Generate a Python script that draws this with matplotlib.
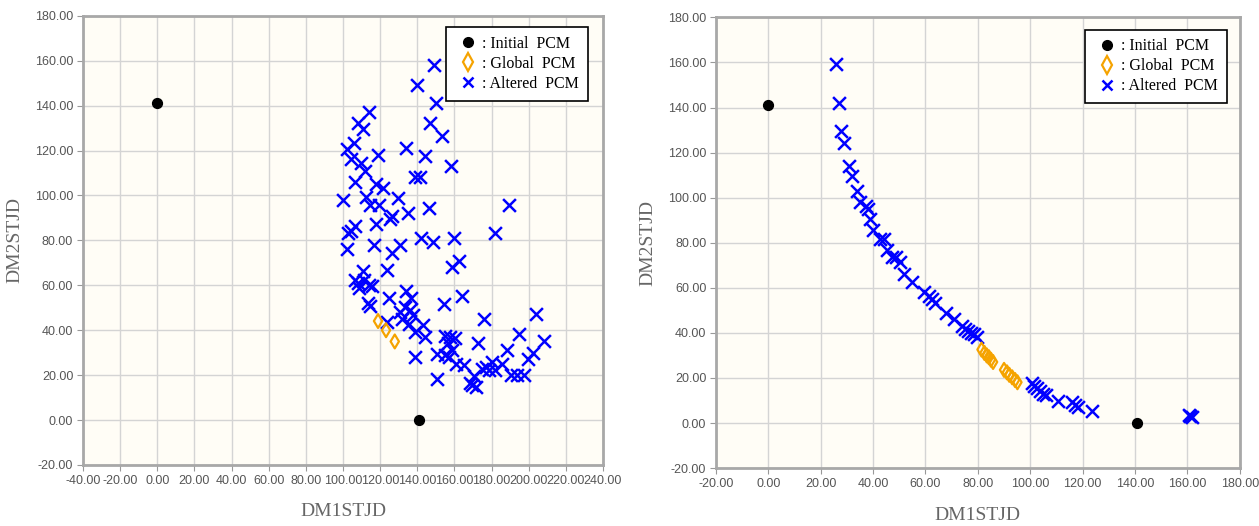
import matplotlib
matplotlib.use("Agg")
import matplotlib.pyplot as plt
from matplotlib.lines import Line2D

# Left panel data
left_initial_x = [0.0, 141.0]
left_initial_y = [141.3, 0.0]
left_global_x = [118.9, 123.2, 127.9]
left_global_y = [44.1, 40.0, 35.0]
left_altered_x = [149.1, 140.0, 150.0, 113.9, 147.0, 108.3, 110.9, 153.5, 106.1, 102.2,
                  134.1, 118.9, 144.3, 104.3, 109.8, 158.0, 112.0, 106.5, 138.9, 141.5,
                  117.8, 121.7, 100.0, 112.4, 129.8, 114.6, 119.6, 146.1, 189.3, 126.5,
                  134.8, 125.4, 106.7, 117.8, 102.8, 142.2, 160.0, 181.7, 116.7, 130.9,
                  148.3, 102.4, 126.5, 158.9, 162.4, 123.5, 110.9, 106.5, 111.3, 108.7,
                  113.9, 115.6, 163.9, 134.1, 124.8, 113.5, 154.4, 136.7, 133.5, 136.1,
                  130.9, 137.8, 132.0, 135.7, 123.7, 143.3, 138.9, 144.3, 175.9, 203.7,
                  138.9, 155.2, 157.4, 160.6, 172.6, 194.8, 208.5, 188.3, 156.3, 158.5,
                  150.9, 154.8, 157.0, 160.7, 165.0, 202.6, 199.8, 150.4, 168.3, 170.4,
                  171.5, 174.8, 177.0, 180.2, 182.0, 185.7, 190.7, 193.7, 197.6, 178.7,
                  104.6, 114.5, 108.0, 169.5]
left_altered_y = [158.1, 149.1, 141.2, 137.2, 132.4, 132.4, 129.4, 126.4, 123.4, 120.7,
                  121.2, 118.1, 117.4, 116.3, 114.3, 113.2, 111.0, 106.2, 108.3, 108.3,
                  105.0, 103.1, 98.0, 99.5, 99.0, 95.6, 95.9, 94.6, 95.8, 90.8,
                  92.0, 89.6, 86.3, 87.1, 83.3, 81.0, 81.0, 83.3, 78.1, 78.1,
                  79.1, 76.2, 74.3, 68.3, 71.0, 67.0, 66.2, 62.5, 62.5, 58.8,
                  60.3, 59.6, 55.4, 57.3, 54.3, 52.1, 51.6, 54.3, 50.5, 48.9,
                  48.2, 46.6, 45.2, 42.9, 43.6, 42.5, 39.4, 37.2, 45.2, 47.4,
                  28.2, 37.5, 37.2, 36.4, 34.1, 38.2, 35.2, 31.1, 34.1, 31.1,
                  29.3, 28.8, 28.1, 25.1, 24.4, 29.7, 27.2, 18.1, 16.6, 19.7,
                  14.5, 22.9, 23.6, 25.9, 22.1, 25.1, 20.0, 20.2, 20.2, 22.1,
                  84.2, 51.0, 61.0, 15.5]

# Right panel data
right_initial_x = [0.0, 140.7]
right_initial_y = [141.3, 0.0]
right_global_x = [81.4, 82.5, 83.4, 84.2, 85.0, 85.8, 90.0, 91.1, 92.0, 93.1, 94.2, 95.1]
right_global_y = [32.6, 31.1, 30.0, 29.2, 28.1, 27.1, 23.6, 22.5, 21.4, 20.3, 19.1, 18.1]
right_altered_x = [25.9, 27.0, 27.8, 29.0, 30.9, 32.0, 34.0, 35.1, 37.1, 38.2,
                   39.0, 39.9, 42.8, 44.0, 45.3, 47.2, 48.7, 50.3, 51.9, 54.7,
                   59.3, 61.4, 62.4, 63.8, 68.0, 70.8, 73.9, 75.0, 76.1, 77.4,
                   78.4, 79.7, 100.5, 101.5, 102.5, 103.6, 104.8, 105.9, 110.5, 115.9,
                   117.0, 118.2, 123.4, 160.5, 161.8, 161.0]
right_altered_y = [159.1, 141.9, 129.5, 124.3, 114.2, 109.4, 103.0, 98.2, 96.4, 94.9,
                   90.7, 85.5, 81.5, 81.8, 76.6, 73.6, 73.6, 71.4, 66.2, 62.8,
                   58.2, 56.4, 55.2, 53.1, 49.0, 46.0, 43.0, 41.8, 41.0, 40.0,
                   39.3, 38.1, 17.6, 16.4, 15.4, 14.3, 13.1, 12.4, 10.0, 9.2,
                   8.0, 7.0, 5.2, 3.7, 2.5, 3.3]

left_xticks = list(range(-40, 241, 20))
right_xticks = list(range(-20, 181, 20))
yticks = list(range(-20, 181, 20))

legend_labels = [": Initial  PCM", ": Global  PCM", ": Altered  PCM"]

BLUE = "#0000FF"
ORANGE = "#F5A300"
FACE = "#FFFDF6"
TICK_FONT = ["Liberation Sans", "DejaVu Sans"]
SERIF = ["Liberation Serif", "DejaVu Serif"]


def draw_panel(ax, init_x, init_y, glob_x, glob_y, alt_x, alt_y, xticks, legend_anchor):
    ax.set_facecolor(FACE)
    ax.scatter(alt_x, alt_y, marker="x", s=85, color=BLUE, linewidths=1.8, zorder=3)
    ax.scatter(glob_x, glob_y, marker="d", s=50, facecolors="none", edgecolors=ORANGE,
               linewidths=1.6, zorder=4)
    ax.scatter(init_x, init_y, marker="o", s=50, color="black", zorder=5)

    ax.set_xlim(xticks[0], xticks[-1])
    ax.set_ylim(yticks[0], yticks[-1])
    ax.set_xticks(xticks)
    ax.set_yticks(yticks)
    ax.set_xticklabels(["%.2f" % t for t in xticks], family=TICK_FONT, fontsize=9, color="#555555")
    ax.set_yticklabels(["%.2f" % t for t in yticks], family=TICK_FONT, fontsize=9, color="#555555")
    ax.tick_params(direction="out", length=4, color="#999999", pad=3)
    ax.grid(True, color="#D4D4D4", linewidth=1.0)
    ax.set_axisbelow(True)
    for side in ax.spines.values():
        side.set_color("#A8A8A8")
        side.set_linewidth(2.0)

    ax.set_xlabel("DM1STJD", family=SERIF, fontsize=14, color="#666666", labelpad=12)
    ax.set_ylabel("DM2STJD", family=SERIF, fontsize=14, color="#666666", labelpad=8)

    # Legend with the three marker types.
    handles = [
        Line2D([], [], marker="o", linestyle="none", color="black", markersize=7),
        Line2D([], [], marker="d", linestyle="none", markerfacecolor="none",
               markeredgecolor=ORANGE, markeredgewidth=1.6, markersize=9),
        Line2D([], [], marker="x", linestyle="none", color=BLUE, markeredgewidth=1.8, markersize=7),
    ]
    leg = ax.legend(handles, legend_labels, loc="upper right", bbox_to_anchor=legend_anchor,
                    prop={"family": SERIF, "size": 11.5}, fancybox=False, framealpha=1,
                    edgecolor="black", handletextpad=0.1, labelspacing=0.25,
                    borderpad=0.55, handlelength=1.6, borderaxespad=0)
    leg.get_frame().set_linewidth(1.2)


fig = plt.figure(figsize=(12.59, 5.26), dpi=100)
ax_left = fig.add_axes([0.0659, 0.116, 0.413, 0.854])
ax_right = fig.add_axes([0.5687, 0.110, 0.416, 0.857])

draw_panel(ax_left, left_initial_x, left_initial_y, left_global_x, left_global_y,
           left_altered_x, left_altered_y, left_xticks, (0.971, 0.975))
draw_panel(ax_right, right_initial_x, right_initial_y, right_global_x, right_global_y,
           right_altered_x, right_altered_y, right_xticks, (0.975, 0.973))

fig.savefig("out.png", dpi=100)
